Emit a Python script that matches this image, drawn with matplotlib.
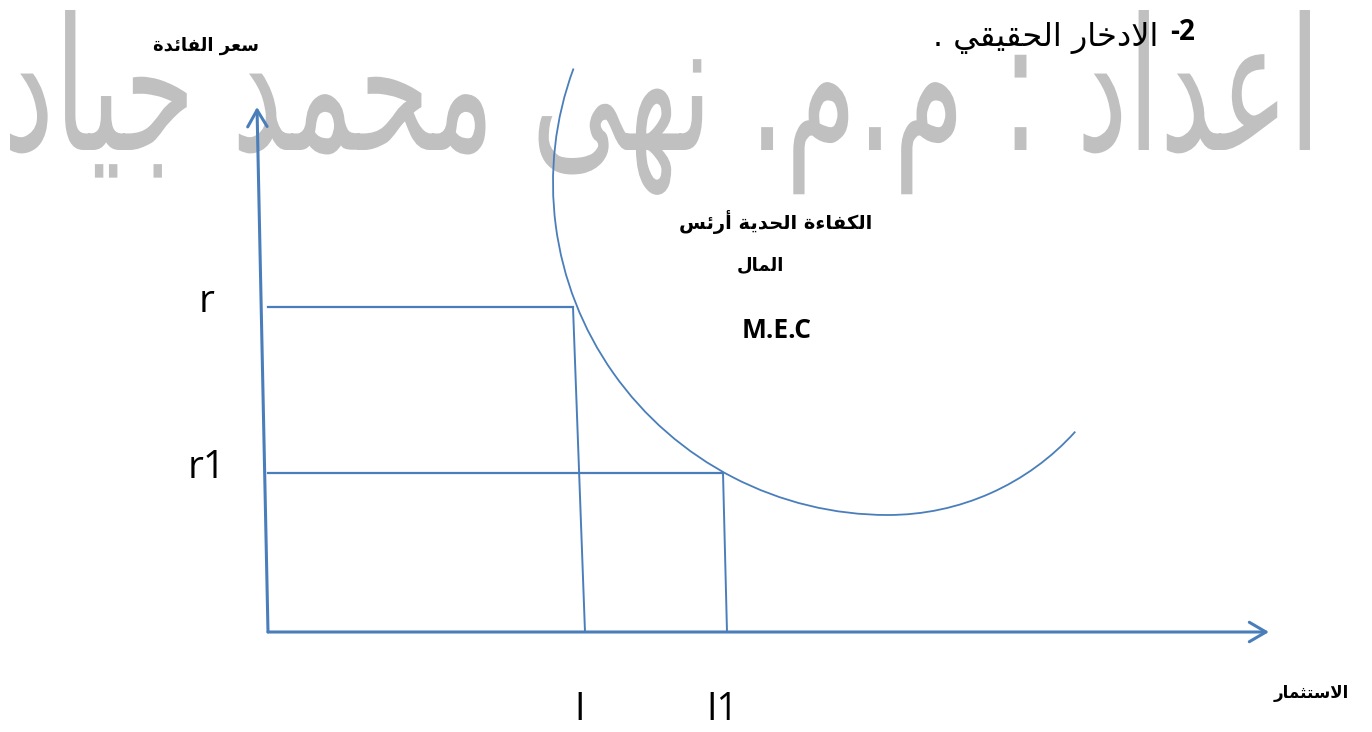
import matplotlib
matplotlib.use('Agg')
import matplotlib.pyplot as plt
from matplotlib.patches import Arc, PathPatch
from matplotlib.textpath import TextPath
from matplotlib.font_manager import FontProperties
from matplotlib.transforms import Affine2D

# ---- diagram values (pixel units of the original page) ----
rate_labels = ['r', 'r1']
rate_levels = [307, 473]          # height of r and r1
invest_labels = ['I', 'I1']
invest_at_rate = [573, 723]       # where the drops start
invest_at_axis = [585, 727]       # where they meet the x axis
origin = (268, 632)
y_axis_top = (257, 107)
x_axis_end = (1269, 632)

# MEC curve: two elliptical pieces (center x, center y, width, height, theta1, theta2)
mec_left = (888, 183, 670, 664, 90, 200)
mec_right = (888, 263, 504, 504, 42, 90)

y_title = 'سعر الفائدة'
x_title = 'الاستثمار'
mec_title = ['الكفاءة الحدية أرئس', 'المال']
mec_abbr = 'M.E.C'
top_line = 'الادخار الحقيقي .'
top_num = '-2'
watermark = 'اعداد : م.م. نهى محمد جياد'

# ---- tiny arabic shaper (presentation forms + visual order) ----
RIGHT = {'ا': 0xFE8D, 'أ': 0xFE83, 'د': 0xFEA9, 'ر': 0xFEAD, 'ة': 0xFE93, 'ى': 0xFEEF}
DUAL = {'ب': 0xFE8F, 'ت': 0xFE95, 'ث': 0xFE99, 'ج': 0xFE9D, 'ح': 0xFEA1, 'خ': 0xFEA5,
        'س': 0xFEB1, 'ع': 0xFEC9, 'ف': 0xFED1, 'ق': 0xFED5, 'ك': 0xFED9, 'ل': 0xFEDD,
        'م': 0xFEE1, 'ن': 0xFEE5, 'ه': 0xFEE9, 'ي': 0xFEF1, 'ئ': 0xFE89}
LAM_ALEF = {'ا': 0xFEFB, 'أ': 0xFEF7}


def shape(s):
    items = []
    i = 0
    while i < len(s):
        if s[i] == 'ل' and i + 1 < len(s) and s[i + 1] in LAM_ALEF:
            items.append(('LA', s[i + 1]))
            i += 2
        else:
            items.append((s[i], None))
            i += 1

    def kind(it):
        if it[0] == 'LA' or it[0] in RIGHT:
            return 'R'
        if it[0] in DUAL:
            return 'D'
        return 'U'

    out = []
    for k, it in enumerate(items):
        kd = kind(it)
        prev = kind(items[k - 1]) if k > 0 else 'U'
        nxt = kind(items[k + 1]) if k + 1 < len(items) else 'U'
        jp = prev == 'D' and kd in 'DR'
        jn = kd == 'D' and nxt in 'DR'
        if it[0] == 'LA':
            out.append(chr(LAM_ALEF[it[1]] + (1 if jp else 0)))
        elif kd == 'U':
            out.append(it[0])
        elif kd == 'R':
            out.append(chr(RIGHT[it[0]] + (1 if jp else 0)))
        else:
            off = 3 if (jp and jn) else 2 if jn else 1 if jp else 0
            out.append(chr(DUAL[it[0]] + off))
    return ''.join(reversed(out))


AR = ['DejaVu Sans']
LAT = ['Open Sans', 'DejaVu Sans']
blue = '#4a7ebb'

fig = plt.figure(figsize=(13.72, 7.32), dpi=100)
ax = fig.add_axes([0, 0, 1, 1])
ax.set_xlim(0, 1372)
ax.set_ylim(732, 0)
ax.axis('off')

# watermark: glyph outlines stretched to the band it fills on the page
tp = TextPath((0, 0), shape(watermark), size=100, prop=FontProperties(family='DejaVu Sans'))
bb = tp.get_extents()
sx = 1300 / bb.width
sy = 140 / bb.y1
tr = Affine2D().scale(sx, -sy).translate(10 - bb.x0 * sx, 150)
ax.add_patch(PathPatch(tr.transform_path(tp), facecolor='#c0c0c0', edgecolor='none', zorder=0))

# axes with open arrow heads
arrow = dict(arrowstyle='->,head_length=0.6,head_width=0.35', color=blue, lw=2.2,
             mutation_scale=20, shrinkA=0, shrinkB=0)
ax.annotate('', xy=y_axis_top, xytext=origin, arrowprops=arrow, zorder=3)
ax.annotate('', xy=x_axis_end, xytext=origin, arrowprops=arrow, zorder=3)

# rate / investment guide lines
for lvl, xt, xb in zip(rate_levels, invest_at_rate, invest_at_axis):
    ax.plot([origin[0], xt], [lvl, lvl], color=blue, lw=1.6, zorder=3)
    ax.plot([xt, xb], [lvl, origin[1]], color=blue, lw=1.4, zorder=3)

# MEC curve
for cx, cy, wd, ht, t1, t2 in (mec_left, mec_right):
    ax.add_patch(Arc((cx, cy), wd, ht, theta1=t1, theta2=t2, color=blue, lw=1.3, zorder=3))

# labels
for lab, lvl in zip(rate_labels, rate_levels):
    ax.text(207, lvl - 5, lab, fontsize=28, family=LAT, ha='center', va='center', zorder=4)
for lab, xb in zip(invest_labels, invest_at_axis):
    ax.text(xb - 5, 710, lab, fontsize=27, family=LAT, ha='center', va='center', zorder=4)

bold_ar = dict(fontweight='bold', family=AR, ha='center', va='center', zorder=4)
ax.text(206, 46, shape(y_title), fontsize=13, **bold_ar)
ax.text(1311, 693, shape(x_title), fontsize=12, **bold_ar)
ax.text(776, 222, shape(mec_title[0]), fontsize=14, **bold_ar)
ax.text(760, 265, shape(mec_title[1]), fontsize=13, **bold_ar)
ax.text(777, 331, mec_abbr, fontsize=19, fontweight='bold', family=LAT, ha='center', va='center', zorder=4)

ax.text(1158, 38, shape(top_line), fontsize=23, family=AR, ha='right', va='center', zorder=4)
ax.text(1170, 33, top_num, fontsize=20, fontweight='bold', family=LAT, ha='left', va='center', zorder=4)

plt.savefig('out.png', dpi=100)
